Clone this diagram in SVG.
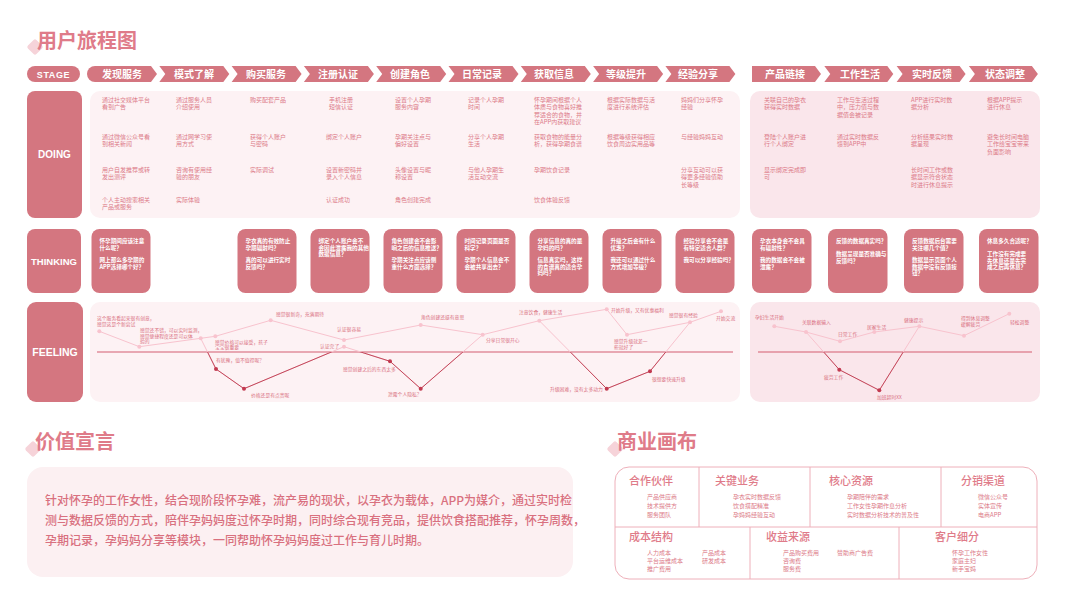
<svg xmlns="http://www.w3.org/2000/svg" width="1066" height="600" viewBox="0 0 1066 600">
<style>
text{font-family:"Noto Sans CJK SC","Noto Sans",sans-serif}
.stg{fill:#d47680}
.stt{fill:#fff;font-size:10px;font-weight:700;text-anchor:middle}
.lbl{fill:#d47680}
.lbt{fill:#fff;font-family:"Liberation Sans",sans-serif;font-weight:700;text-anchor:middle}
.pnl{fill:#fdf2f4}
.pnr{fill:#fae6eb}
.dt{fill:#dc7a88;font-size:6px}
.card{fill:#d47680}
.ct{fill:#fff;font-size:5.6px;font-weight:700}
.ft{fill:#d9707f;font-size:4.8px}
.lp{fill:none;stroke:#f8c3ce;stroke-width:1}
.dp{fill:none;stroke:#c2475a;stroke-width:1}
.base{stroke:#d45d70;stroke-width:1.2}
.pl{fill:#f8c3ce}
.pd{fill:#c23a50}
.hd{fill:#df7b89;font-size:20px;font-weight:700}
.dia{fill:#f6d3d9}
.bh{fill:#df7b89;font-size:11px;font-weight:500}
.it{fill:#dc7a88;font-size:6px}
.cv{fill:none;stroke:#eeb0ba;stroke-width:1}
.vt{fill:#d9707f;font-size:12px;font-weight:500}
</style>
<defs>
<clipPath id="clipL"><rect x="90" y="352" width="650" height="60"/></clipPath>
<clipPath id="clipR"><rect x="750" y="352" width="290" height="60"/></clipPath>
</defs>
<rect width="1066" height="600" fill="#fff"/>

<!-- Titles -->
<g id="title-journey">
<rect class="dia" x="29" y="41" width="12" height="12" rx="2" transform="rotate(45 35 47)"/>
<text class="hd" x="37" y="48">用户旅程图</text>
</g>

<!-- Stage row -->
<g id="stage">
<rect class="stg" x="27" y="66" width="53" height="16" rx="8"/>
<text class="lbt" x="53.5" y="77.5" font-size="9" letter-spacing="0.6">STAGE</text>
<path class="stg" d="M95 66H151L157 74L151 82H95A8 8 0 0 1 95 66Z"/>
<polygon class="stg" points="159.3,66 223.3,66 229.3,74 223.3,82 159.3,82 165.3,74"/>
<polygon class="stg" points="231.6,66 295.6,66 301.6,74 295.6,82 231.6,82 237.6,74"/>
<polygon class="stg" points="303.9,66 367.9,66 373.9,74 367.9,82 303.9,82 309.9,74"/>
<polygon class="stg" points="376.2,66 440.2,66 446.2,74 440.2,82 376.2,82 382.2,74"/>
<polygon class="stg" points="448.5,66 512.5,66 518.5,74 512.5,82 448.5,82 454.5,74"/>
<polygon class="stg" points="520.8,66 584.8,66 590.8,74 584.8,82 520.8,82 526.8,74"/>
<polygon class="stg" points="593.1,66 657.1,66 663.1,74 657.1,82 593.1,82 599.1,74"/>
<polygon class="stg" points="665.4,66 729.4,66 735.4,74 729.4,82 665.4,82 671.4,74"/>
<text class="stt" x="122" y="77.5">发现服务</text>
<text class="stt" x="194" y="77.5">模式了解</text>
<text class="stt" x="266" y="77.5">购买服务</text>
<text class="stt" x="338" y="77.5">注册认证</text>
<text class="stt" x="410" y="77.5">创建角色</text>
<text class="stt" x="482" y="77.5">日常记录</text>
<text class="stt" x="554" y="77.5">获取信息</text>
<text class="stt" x="626" y="77.5">等级提升</text>
<text class="stt" x="698" y="77.5">经验分享</text>
<polygon class="stg" points="752,66 815,66 821,74 815,82 752,82"/>
<polygon class="stg" points="824.3,66 887.3,66 893.3,74 887.3,82 824.3,82 830.3,74"/>
<polygon class="stg" points="896.6,66 959.6,66 965.6,74 959.6,82 896.6,82 902.6,74"/>
<polygon class="stg" points="968.9,66 1031.9,66 1037.9,74 1031.9,82 968.9,82 974.9,74"/>
<text class="stt" x="785" y="77.5">产品链接</text>
<text class="stt" x="860" y="77.5">工作生活</text>
<text class="stt" x="932" y="77.5">实时反馈</text>
<text class="stt" x="1005" y="77.5">状态调整</text>
</g>

<!-- DOING -->
<g id="doing">
<rect class="lbl" x="27" y="91" width="55" height="127" rx="8"/>
<text class="lbt" x="54.5" y="158" font-size="10">DOING</text>
<rect class="pnl" x="90" y="91" width="650" height="127" rx="10"/>
<rect class="pnr" x="750" y="91" width="290" height="127" rx="10"/>
<g class="dt">
<text x="102" y="102"><tspan x="102">通过社交媒体平台</tspan><tspan x="102" dy="7.3">看到广告</tspan></text>
<text x="102" y="139"><tspan x="102">通过微信公众号看</tspan><tspan x="102" dy="7.3">到相关新闻</tspan></text>
<text x="102" y="172"><tspan x="102">用户自发推荐或转</tspan><tspan x="102" dy="7.3">发出测评</tspan></text>
<text x="102" y="202"><tspan x="102">个人主动搜索相关</tspan><tspan x="102" dy="7.3">产品或服务</tspan></text>

<text x="176" y="102"><tspan x="176">通过服务人员</tspan><tspan x="176" dy="7.3">介绍使用</tspan></text>
<text x="176" y="139"><tspan x="176">通过网学习使</tspan><tspan x="176" dy="7.3">用方式</tspan></text>
<text x="176" y="172"><tspan x="176">咨询有使用经</tspan><tspan x="176" dy="7.3">验的朋友</tspan></text>
<text x="176" y="202">实际体验</text>

<text x="250" y="102">购买配套产品</text>
<text x="250" y="139"><tspan x="250">获得个人账户</tspan><tspan x="250" dy="7.3">与密码</tspan></text>
<text x="250" y="172">实际调试</text>

<text x="329" y="102"><tspan x="329">手机注册</tspan><tspan x="329" dy="7.3">短信认证</tspan></text>
<text x="326" y="139">绑定个人账户</text>
<text x="326" y="172"><tspan x="326">设置新密码并</tspan><tspan x="326" dy="7.3">录入个人信息</tspan></text>
<text x="326" y="202">认证成功</text>

<text x="395" y="102"><tspan x="395">设置个人孕期</tspan><tspan x="395" dy="7.3">服务内容</tspan></text>
<text x="395" y="139"><tspan x="395">孕期关注点与</tspan><tspan x="395" dy="7.3">偏好设置</tspan></text>
<text x="395" y="172"><tspan x="395">头像设置与昵</tspan><tspan x="395" dy="7.3">称设置</tspan></text>
<text x="395" y="202">角色创建完成</text>

<text x="468" y="102"><tspan x="468">记录个人孕期</tspan><tspan x="468" dy="7.3">时间</tspan></text>
<text x="468" y="139"><tspan x="468">分享个人孕期</tspan><tspan x="468" dy="7.3">生活</tspan></text>
<text x="468" y="172"><tspan x="468">与他人孕期生</tspan><tspan x="468" dy="7.3">活互动交流</tspan></text>

<text x="534" y="102"><tspan x="534">怀孕期间根据个人</tspan><tspan x="534" dy="7.3">体质与食物喜好推</tspan><tspan x="534" dy="7.3">荐适合的食物，并</tspan><tspan x="534" dy="7.3">在APP内获取建议</tspan></text>
<text x="534" y="139"><tspan x="534">获取食物的能量分</tspan><tspan x="534" dy="7.3">析，获得孕期食谱</tspan></text>
<text x="534" y="172">孕期饮食记录</text>
<text x="534" y="202">饮食体验反馈</text>

<text x="607" y="102"><tspan x="607">根据实际数据与活</tspan><tspan x="607" dy="7.3">度进行系统评估</tspan></text>
<text x="607" y="139"><tspan x="607">根据等级获得相应</tspan><tspan x="607" dy="7.3">饮食周边实用品等</tspan></text>

<text x="681" y="102"><tspan x="681">妈妈们分享怀孕</tspan><tspan x="681" dy="7.3">经验</tspan></text>
<text x="681" y="139">与经验妈妈互动</text>
<text x="681" y="172"><tspan x="681">分享互动可以获</tspan><tspan x="681" dy="7.3">得更多经验值助</tspan><tspan x="681" dy="7.3">长等级</tspan></text>

<text x="764" y="102"><tspan x="764">关联自己的孕衣</tspan><tspan x="764" dy="7.3">获得实时数据</tspan></text>
<text x="764" y="139"><tspan x="764">登陆个人账户进</tspan><tspan x="764" dy="7.3">行个人绑定</tspan></text>
<text x="764" y="172"><tspan x="764">显示绑定完成即</tspan><tspan x="764" dy="7.3">可</tspan></text>

<text x="837" y="102"><tspan x="837">工作与生活过程</tspan><tspan x="837" dy="7.3">中，压力值与数</tspan><tspan x="837" dy="7.3">据值会被记录</tspan></text>
<text x="837" y="139"><tspan x="837">通过实时数据反</tspan><tspan x="837" dy="7.3">馈到APP中</tspan></text>

<text x="911" y="102"><tspan x="911">APP进行实时数</tspan><tspan x="911" dy="7.3">据分析</tspan></text>
<text x="911" y="139"><tspan x="911">分析结果实时数</tspan><tspan x="911" dy="7.3">据呈现</tspan></text>
<text x="911" y="172"><tspan x="911">长时间工作或数</tspan><tspan x="911" dy="7.3">据显示符合状态</tspan><tspan x="911" dy="7.3">时进行休息提示</tspan></text>

<text x="987" y="102"><tspan x="987">根据APP提示</tspan><tspan x="987" dy="7.3">进行休息</tspan></text>
<text x="987" y="139"><tspan x="987">避免长时间电脑</tspan><tspan x="987" dy="7.3">工作给宝宝带来</tspan><tspan x="987" dy="7.3">负面影响</tspan></text>
</g>
</g>

<!-- THINKING -->
<g id="thinking">
<rect class="lbl" x="27" y="229" width="54" height="64" rx="8"/>
<text class="lbt" x="54" y="264.5" font-size="9.5">THINKING</text>
</g>
<g id="think-1"><rect class="card" x="91.5" y="229" width="59" height="64" rx="8"/>
<text class="ct"><tspan x="99.5" y="243">怀孕期间应该注意</tspan><tspan x="99.5" y="249.5">什么呢？</tspan><tspan x="99.5" y="262">网上那么多孕期的</tspan><tspan x="99.5" y="268.5">APP选择哪个好？</tspan></text></g>
<g id="think-3"><rect class="card" x="237.5" y="229" width="59" height="64" rx="8"/>
<text class="ct"><tspan x="245.5" y="243">孕衣真的有效防止</tspan><tspan x="245.5" y="249.5">孕期辐射吗？</tspan><tspan x="245.5" y="262">真的可以进行实时</tspan><tspan x="245.5" y="268.5">反馈吗？</tspan></text></g>
<g id="think-4"><rect class="card" x="310.5" y="229" width="59" height="64" rx="8"/>
<text class="ct"><tspan x="318.5" y="243">绑定个人账户会不</tspan><tspan x="318.5" y="249.5">会因此泄露我的其他</tspan><tspan x="318.5" y="256">数据信息？</tspan></text></g>
<g id="think-5"><rect class="card" x="383.5" y="229" width="59" height="64" rx="8"/>
<text class="ct"><tspan x="391.5" y="243">角色创建会不会影</tspan><tspan x="391.5" y="249.5">响之后的信息推送？</tspan><tspan x="391.5" y="262">孕期关注点应该侧</tspan><tspan x="391.5" y="268.5">重什么方面选择？</tspan></text></g>
<g id="think-6"><rect class="card" x="456.5" y="229" width="59" height="64" rx="8"/>
<text class="ct"><tspan x="464.5" y="243">时间记录页面是否</tspan><tspan x="464.5" y="249.5">科学？</tspan><tspan x="464.5" y="262">孕期个人信息会不</tspan><tspan x="464.5" y="268.5">会被共享出去？</tspan></text></g>
<g id="think-7"><rect class="card" x="529.5" y="229" width="59" height="64" rx="8"/>
<text class="ct"><tspan x="537.5" y="243">分享信息的真的是</tspan><tspan x="537.5" y="249.5">孕妈的吗？</tspan><tspan x="537.5" y="262">信息真实吗，这样</tspan><tspan x="537.5" y="268.5">的食谱真的适合孕</tspan><tspan x="537.5" y="275">妈吗？</tspan></text></g>
<g id="think-8"><rect class="card" x="602.5" y="229" width="59" height="64" rx="8"/>
<text class="ct"><tspan x="610.5" y="243">升级之后会有什么</tspan><tspan x="610.5" y="249.5">优惠？</tspan><tspan x="610.5" y="262">我还可以通过什么</tspan><tspan x="610.5" y="268.5">方式增加等级？</tspan></text></g>
<g id="think-9"><rect class="card" x="675.5" y="229" width="59" height="64" rx="8"/>
<text class="ct"><tspan x="683.5" y="243">经验分享会不会是</tspan><tspan x="683.5" y="249.5">有特定适合人群？</tspan><tspan x="683.5" y="262">我可以分享经验吗？</tspan></text></g>
<g id="think-a"><rect class="card" x="752" y="229" width="59.5" height="64" rx="8"/>
<text class="ct"><tspan x="760" y="243">孕衣本身会不会具</tspan><tspan x="760" y="249.5">有辐射性？</tspan><tspan x="760" y="262">我的数据会不会被</tspan><tspan x="760" y="268.5">泄露？</tspan></text></g>
<g id="think-b"><rect class="card" x="828" y="229" width="59.5" height="64" rx="8"/>
<text class="ct"><tspan x="836" y="243">反馈的数据真实吗？</tspan><tspan x="836" y="256">数据呈现是否准确与</tspan><tspan x="836" y="262.5">反馈吗？</tspan></text></g>
<g id="think-c"><rect class="card" x="904" y="229" width="59.5" height="64" rx="8"/>
<text class="ct"><tspan x="912" y="243">反馈数据后台需要</tspan><tspan x="912" y="249.5">关注哪几个值？</tspan><tspan x="912" y="262">数据显示页面个人</tspan><tspan x="912" y="268.5">数据中没有反馈按</tspan><tspan x="912" y="275">钮？</tspan></text></g>
<g id="think-d"><rect class="card" x="979" y="229" width="59.5" height="64" rx="8"/>
<text class="ct"><tspan x="987" y="243">休息多久合适呢？</tspan><tspan x="987" y="256">工作没有完成要</tspan><tspan x="987" y="262.5">先休息还是先完</tspan><tspan x="987" y="269">成之后再休息？</tspan></text></g>

<!-- FEELING -->
<g id="feeling">
<rect class="lbl" x="27" y="302" width="56" height="100" rx="9"/>
<text class="lbt" x="55" y="356" font-size="10.5">FEELING</text>
<rect class="pnl" x="90" y="302" width="650" height="100" rx="10"/>
<rect class="pnr" x="750" y="302" width="290" height="100" rx="10"/>
</g>
<g id="connectors">
<line class="base" x1="97" y1="352" x2="733" y2="352"/>
<line class="base" x1="758" y1="352" x2="1032" y2="352"/>
<polyline class="lp" points="99.3,331.3 139.3,346.7 200.7,338.3 215.3,336.3 270.7,320.3 344,340 420.7,325 482.7,334.7 539.3,320.7 606.7,309.3 627,334.7 690,322.3 721,311.3"/>
<polyline class="lp" points="200.7,338.3 216,369 244,388.7 344,346.7 390,361.3 420.7,388.7 482.7,334.7"/>
<polyline class="lp" points="539.3,320.7 606.7,388.7 650,371.3 690,322.3"/>
<g clip-path="url(#clipL)">
<polyline class="dp" points="200.7,338.3 216,369 244,388.7 344,346.7 390,361.3 420.7,388.7 482.7,334.7"/>
<polyline class="dp" points="539.3,320.7 606.7,388.7 650,371.3 690,322.3"/>
</g>
<polyline class="lp" points="774.3,326.3 806,332 840,341.3 874.3,332 919.3,326.3 964,335.7 1009.3,313.7"/>
<polyline class="lp" points="806,332 839.3,369.7 879.3,390.3 919.3,326.3"/>
<g clip-path="url(#clipR)">
<polyline class="dp" points="806,332 839.3,369.7 879.3,390.3 919.3,326.3"/>
</g>
</g>
<g id="feeling-points">
<g class="pl">
<circle cx="99.3" cy="331.3" r="2"/><circle cx="139.3" cy="346.7" r="2"/><circle cx="200.7" cy="338.3" r="2"/><circle cx="215.3" cy="336.3" r="2"/><circle cx="270.7" cy="320.3" r="2"/><circle cx="344" cy="340" r="2"/><circle cx="344" cy="346.7" r="2"/><circle cx="420.7" cy="325" r="2"/><circle cx="482.7" cy="334.7" r="2"/><circle cx="539.3" cy="320.7" r="2"/><circle cx="606.7" cy="309.3" r="2"/><circle cx="627" cy="334.7" r="2"/><circle cx="690" cy="322.3" r="2"/><circle cx="721" cy="311.3" r="2"/>
<circle cx="774.3" cy="326.3" r="2"/><circle cx="806" cy="332" r="2"/><circle cx="840" cy="341.3" r="2"/><circle cx="874.3" cy="332" r="2"/><circle cx="919.3" cy="326.3" r="2"/><circle cx="964" cy="335.7" r="2"/><circle cx="1009.3" cy="313.7" r="2"/>
</g>
<g class="pd">
<circle cx="216" cy="369" r="2"/><circle cx="244" cy="388.7" r="2"/><circle cx="390" cy="361.3" r="2"/><circle cx="420.7" cy="388.7" r="2"/><circle cx="606.7" cy="388.7" r="2"/><circle cx="650" cy="371.3" r="2"/>
<circle cx="839.3" cy="369.7" r="2"/><circle cx="879.3" cy="390.3" r="2"/>
</g>
</g>
<g id="feeling-labels" class="ft">
<text><tspan x="97" y="320">这个服务看起来很有创意，</tspan><tspan x="97" y="325.5">感觉这是个新尝试</tspan></text>
<text><tspan x="140" y="332">感觉还不错，可以实时监测，</tspan><tspan x="140" y="337.5">感觉便捷程度还是可以体</tspan><tspan x="140" y="343">验的</tspan></text>
<text><tspan x="215" y="343.5">感觉价格可以接受，孩子</tspan><tspan x="215" y="349">宝宝很重要</tspan></text>
<text x="216" y="362">有犹豫，值不值得呢？</text>
<text x="251" y="397">价格还是有点贵呢</text>
<text x="276" y="316">感觉很新奇，充满期待</text>
<text x="337" y="331">认证很容易</text>
<text x="320" y="347.5">认证完了</text>
<text x="343" y="370.5">感觉创建之后的东西太多</text>
<text x="388" y="396">泄露个人隐私？</text>
<text x="421" y="319">角色创建还挺有意思</text>
<text x="486" y="342">分享日常很开心</text>
<text x="519" y="314">注意饮食，健康生活</text>
<text x="611" y="312">开始升级，又有优惠福利</text>
<text><tspan x="614" y="343">感觉升级就差一</tspan><tspan x="614" y="348.5">些就好了</tspan></text>
<text x="669" y="316.5">感觉很有经验</text>
<text x="716" y="319.5">开始交流</text>
<text x="550" y="391">升级困难，没有太多动力</text>
<text x="652" y="381">很想要快速升级</text>
<text x="755" y="319">孕妇生活开始</text>
<text x="802" y="324">关联数据输入</text>
<text x="838" y="336">日常工作</text>
<text x="867" y="329">居家生活</text>
<text x="904" y="321.5">健康提示</text>
<text><tspan x="961" y="320">得到休息调整</tspan><tspan x="961" y="325.5">缓解疲劳</tspan></text>
<text x="1010" y="324">轻松调整</text>
<text x="824" y="379">疲劳工作</text>
<text x="877" y="398.5">加班超时XX</text>
</g>

<!-- Value statement -->
<g id="value">
<rect class="dia" x="27" y="443" width="12" height="12" rx="2" transform="rotate(45 33 449)"/>
<text class="hd" x="35" y="449">价值宣言</text>
<rect x="27" y="467" width="546" height="110" rx="16" fill="#fcf0f2"/>
<text class="vt"><tspan x="45" y="505">针对怀孕的工作女性，结合现阶段怀孕难，流产易的现状，以孕衣为载体，APP为媒介，通过实时检</tspan><tspan x="45" y="525">测与数据反馈的方式，陪伴孕妈妈度过怀孕时期，同时综合现有竞品，提供饮食搭配推荐，怀孕周数，</tspan><tspan x="45" y="545">孕期记录，孕妈妈分享等模块，一同帮助怀孕妈妈度过工作与育儿时期。</tspan></text>
</g>

<!-- Business canvas -->
<g id="canvas">
<rect class="dia" x="609" y="443" width="12" height="12" rx="2" transform="rotate(45 615 449)"/>
<text class="hd" x="617" y="449">商业画布</text>
<rect class="cv" x="615" y="467" width="422" height="112" rx="14"/>
<line class="cv" x1="615" y1="527" x2="1037" y2="527"/>
<line class="cv" x1="699" y1="467" x2="699" y2="527"/>
<line class="cv" x1="810" y1="467" x2="810" y2="527"/>
<line class="cv" x1="941" y1="467" x2="941" y2="527"/>
<line class="cv" x1="750" y1="527" x2="750" y2="579"/>
<line class="cv" x1="899" y1="527" x2="899" y2="579"/>
</g>
<g id="cell-partners">
<text class="bh" x="629" y="485">合作伙伴</text>
<text class="it"><tspan x="647" y="498.5">产品供应商</tspan><tspan x="647" y="507.5">技术提供方</tspan><tspan x="647" y="516.5">服务团队</tspan></text>
</g>
<g id="cell-activities">
<text class="bh" x="715" y="485">关键业务</text>
<text class="it"><tspan x="733" y="498.5">孕衣实时数据反馈</tspan><tspan x="733" y="507.5">饮食搭配精准</tspan><tspan x="733" y="516.5">孕妈妈经验互动</tspan></text>
</g>
<g id="cell-resources">
<text class="bh" x="829" y="485">核心资源</text>
<text class="it"><tspan x="847" y="498.5">孕期陪伴的需求</tspan><tspan x="847" y="507.5">工作女性孕期作息分析</tspan><tspan x="847" y="516.5">实时数据分析技术的普及性</tspan></text>
</g>
<g id="cell-channels">
<text class="bh" x="961" y="485">分销渠道</text>
<text class="it"><tspan x="978" y="498.5">微信公众号</tspan><tspan x="978" y="507.5">实体宣传</tspan><tspan x="978" y="516.5">电商APP</tspan></text>
</g>
<g id="cell-cost">
<text class="bh" x="629" y="541">成本结构</text>
<text class="it"><tspan x="647" y="554.5">人力成本</tspan><tspan x="647" y="562.5">平台运维成本</tspan><tspan x="647" y="570.5">推广费用</tspan></text>
<text class="it"><tspan x="702" y="554.5">产品成本</tspan><tspan x="702" y="562.5">研发成本</tspan></text>
</g>
<g id="cell-revenue">
<text class="bh" x="766" y="541">收益来源</text>
<text class="it"><tspan x="783" y="554.5">产品购买费用</tspan><tspan x="783" y="562.5">咨询费</tspan><tspan x="783" y="570.5">服务费</tspan></text>
<text class="it" x="837" y="554.5">赞助商广告费</text>
</g>
<g id="cell-segments">
<text class="bh" x="935" y="541">客户细分</text>
<text class="it"><tspan x="952" y="554.5">怀孕工作女性</tspan><tspan x="952" y="562.5">家庭主妇</tspan><tspan x="952" y="570.5">新手宝妈</tspan></text>
</g>
</svg>
